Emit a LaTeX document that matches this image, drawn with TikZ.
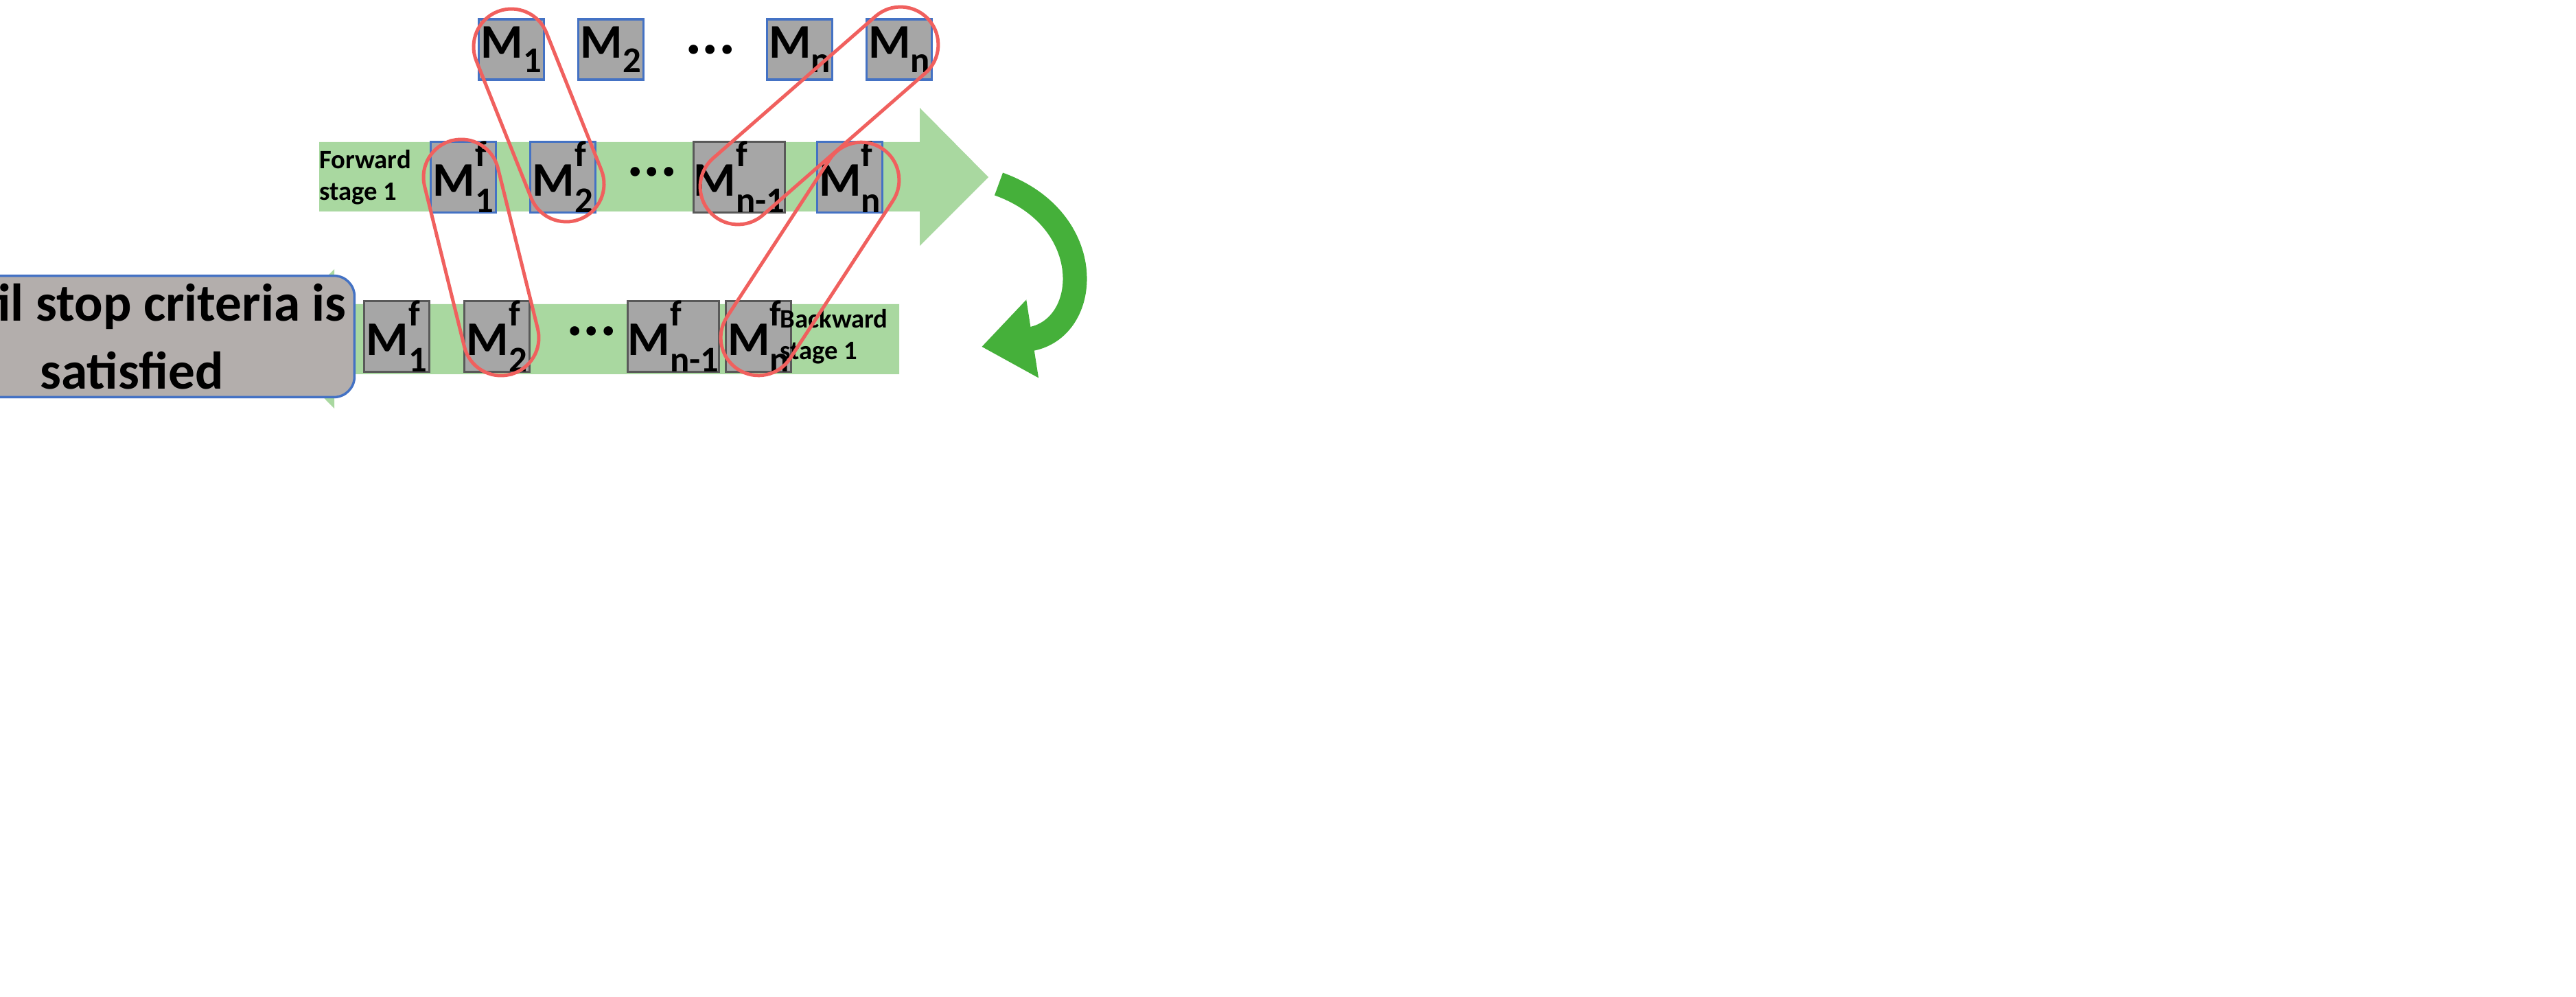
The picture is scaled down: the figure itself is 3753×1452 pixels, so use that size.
\documentclass[tikz,border=0pt]{standalone}
\usepackage{fontspec}
\setmainfont{Carlito}
\usetikzlibrary{calc,arrows.meta}
\definecolor{boxg}{HTML}{A6A6A6}
\definecolor{bord}{HTML}{4472C4}
\definecolor{lgreen}{HTML}{A9D8A0}
\definecolor{dgreen}{HTML}{45B03A}
\definecolor{loopred}{HTML}{F0605E}
\definecolor{stopg}{HTML}{B3AEAC}
\newcommand\Ms[1]{M\raisebox{-0.3em}{\fontsize{15}{15}\selectfont #1}}
\newcommand\Mfs[1]{M\makebox[0pt][l]{\raisebox{0.6em}{\fontsize{15}{15}\selectfont f}}\raisebox{-0.35em}{\fontsize{15}{15}\selectfont #1}}
\begin{document}
\begin{tikzpicture}[x=0.01cm,y=-0.01cm,
 mbox/.style={draw=bord,fill=boxg,line width=1pt,minimum width=0.95cm,minimum height=0.88cm,inner sep=0pt,font=\fontsize{20}{22}\selectfont\bfseries},
 gbox/.style={mbox,draw=gray!70!black},
 lab/.style={font=\fontsize{11}{13}\selectfont\bfseries,align=left},
 dots/.style={font=\fontsize{26}{26}\selectfont\bfseries},
 loop/.style={draw=loopred,line width=0.05cm,rounded corners=0.55cm,minimum height=1.1cm,inner sep=0pt}]
\useasboundingbox (0,0) rectangle (3753,1452);
% big arrows
\fill[lgreen] (465,207) -- (1340,207) -- (1340,157) -- (1440,258) -- (1340,358) -- (1340,308) -- (465,308) -- cycle;
\fill[lgreen] (1310,443) -- (487,443) -- (487,392) -- (388,494) -- (487,595) -- (487,545) -- (1310,545) -- cycle;
% curved arrow
\draw[dgreen,line width=0.35cm,-{Triangle[length=0.75cm,width=1.1cm]}] (1455,268) .. controls (1600,320) and (1590,480) .. (1430,505);
% top row
\node[mbox] (t1) at (745,72) {\Ms{1}};
\node[mbox] (t2) at (890,72) {\Ms{2}};
\node[dots] (td) at (1035,72) {...};
\node[mbox] (tn) at (1165,72) {\Ms{n}};
\node[mbox] (tn2) at (1310,72) {\Ms{n}};
% forward
\node[lab] (fl) at (532,258) {Forward\\stage 1};
\node[mbox] (f1) at (675,258) {\Mfs{1}};
\node[mbox] (f2) at (820,258) {\Mfs{2}};
\node[dots] (fd) at (950,250) {...};
\node[gbox,minimum width=1.3cm] (fn1) at (1077,258) {\Mfs{n-1}};
\node[mbox] (fn) at (1238,258) {\Mfs{n}};
% backward
\node[gbox] (b1) at (578,490) {\Mfs{1}};
\node[gbox] (b2) at (724,490) {\Mfs{2}};
\node[dots] (bd) at (862,482) {...};
\node[gbox,minimum width=1.28cm] (bn1) at (981,490) {\Mfs{n-1}};
\node[gbox] (bn) at (1105,490) {\Mfs{n}};
\node[lab] (bl) at (1215,490) {Backward\\stage 1};
% stop
\node[draw=bord,fill=stopg,line width=1pt,rounded corners=0.3cm,minimum width=3.65cm,minimum height=1.46cm,align=center,font=\fontsize{22}{28}\selectfont\bfseries] (stop) at (192,490) {Until stop criteria is\\satisfied};
% loops
\foreach \ax/\ay/\bx/\by in {745/68/825/268, 1312/65/1075/272, 672/258/730/492, 1255/262/1105/492}{
 \path let \p1=($(\bx,\by)-(\ax,\ay)$), \n1={atan2(\y1,\x1)}, \n2={veclen(\x1,\y1)} in
  node[loop,rotate=\n1,minimum width=\n2+1.1cm] at ($(\ax,\ay)!0.5!(\bx,\by)$) {};
}
\end{tikzpicture}
\end{document}
